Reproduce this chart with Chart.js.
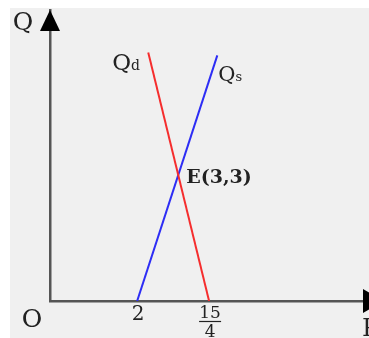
<!DOCTYPE html>
<html>
<head>
<meta charset="utf-8">
<script src="https://cdn.jsdelivr.net/npm/chart.js@4"></script>
<style>
  html, body { margin: 0; padding: 0; background: #fff; }
  canvas { display: block; }
</style>
</head>
<body>
<canvas id="grafico" width="369" height="338"></canvas>
<script>
// Datos (P en x, Q en y)
const ofertaP = [2, 3.95];
const ofertaQ = [0, 5.85];
const demandaP = [2.27, 3.75];
const demandaQ = [5.92, 0];
const equilibrio = [3, 3];
const tickValores = [2, 3.75];
const tickEtiquetas = ["2", ["15", "4"]];

const fuente = "'DejaVu Serif', 'Liberation Serif', serif";
const colorTexto = "#222";

// fondo gris con borde blanco arriba/izquierda
const fondo = {
  id: "fondo",
  beforeDraw(chart) {
    const c = chart.ctx;
    c.save();
    c.fillStyle = "#fff";
    c.fillRect(0, 0, chart.width, chart.height);
    c.fillStyle = "#f0f0f0";
    c.fillRect(10, 8, chart.width - 10, chart.height - 8);
    c.restore();
  }
};

// flechas, etiquetas y fracción
const anotaciones = {
  id: "anotaciones",
  afterDraw(chart) {
    const c = chart.ctx;
    const x = chart.scales.x, y = chart.scales.y;
    const a = chart.chartArea;
    c.save();
    // flecha eje Q
    c.fillStyle = "#000";
    c.beginPath();
    c.moveTo(a.left, a.top);
    c.lineTo(a.left - 10, a.top + 21);
    c.lineTo(a.left + 10, a.top + 21);
    c.closePath();
    c.fill();
    // flecha eje P (cortada por el borde)
    c.beginPath();
    c.moveTo(a.right - 6, a.bottom - 12);
    c.lineTo(a.right + 15, a.bottom);
    c.lineTo(a.right - 6, a.bottom + 12);
    c.closePath();
    c.fill();

    c.fillStyle = colorTexto;
    c.textBaseline = "alphabetic";
    c.font = "25px " + fuente;
    c.textAlign = "center";
    c.fillText("Q", 23, 30);
    c.fillText("O", 32, 327);
    c.textAlign = "left";
    c.fillText("P", 362, 336);

    // Qd y Qs
    const labelCurva = (txt, sub, px, py, size) => {
      c.font = size + "px " + fuente;
      c.fillText(txt, px, py);
      const w = c.measureText(txt).width;
      c.font = Math.round(size * 0.62) + "px " + fuente;
      c.fillText(sub, px + w, py);
    };
    labelCurva("Q", "d", x.getPixelForValue(demandaP[0]) - 36, y.getPixelForValue(demandaQ[0]) + 18, 23);
    labelCurva("Q", "s", x.getPixelForValue(ofertaP[1]) + 1, y.getPixelForValue(ofertaQ[1]) + 26, 21);

    // punto de equilibrio
    c.font = "bold 19px " + fuente;
    c.fillText("E(" + equilibrio[0] + "," + equilibrio[1] + ")",
      x.getPixelForValue(equilibrio[0]) + 8, y.getPixelForValue(equilibrio[1]) + 8);

    // etiquetas del eje P
    c.textAlign = "center";
    tickValores.forEach((v, i) => {
      const px = x.getPixelForValue(v) + 1;
      const lab = tickEtiquetas[i];
      if (Array.isArray(lab)) {
        c.font = "17px " + fuente;
        c.fillText(lab[0], px, 318);
        c.strokeStyle = colorTexto;
        c.lineWidth = 1.2;
        c.beginPath();
        c.moveTo(px - 11, 321.5);
        c.lineTo(px + 11, 321.5);
        c.stroke();
        c.fillText(lab[1], px, 337);
      } else {
        c.font = "20px " + fuente;
        c.fillText(lab, px, 320);
      }
    });
    c.restore();
  }
};

const puntos = (xs, ys) => xs.map((v, i) => ({ x: v, y: ys[i] }));

new Chart(document.getElementById("grafico").getContext("2d"), {
  type: "scatter",
  data: {
    datasets: [
      {
        label: "Qd",
        data: puntos(demandaP, demandaQ),
        showLine: true,
        borderColor: "rgb(245,45,45)",
        borderWidth: 2,
        pointRadius: 0
      },
      {
        label: "Qs",
        data: puntos(ofertaP, ofertaQ),
        showLine: true,
        borderColor: "rgb(45,45,245)",
        borderWidth: 2,
        pointRadius: 0
      }
    ]
  },
  options: {
    responsive: false,
    animation: false,
    layout: { padding: { left: 50, top: 10, right: 0, bottom: 37 } },
    plugins: {
      legend: { display: false },
      tooltip: { enabled: false },
      title: { display: false }
    },
    scales: {
      x: {
        type: "linear",
        min: -0.12,
        max: 7.64,
        grid: { display: false, drawTicks: false },
        ticks: { display: false },
        border: { display: true, color: "#555", width: 2.5 }
      },
      y: {
        type: "linear",
        min: 0,
        max: 6.93,
        grid: { display: false, drawTicks: false },
        ticks: { display: false },
        border: { display: true, color: "#555", width: 2.5 }
      }
    }
  },
  plugins: [fondo, anotaciones]
});
</script>
</body>
</html>
